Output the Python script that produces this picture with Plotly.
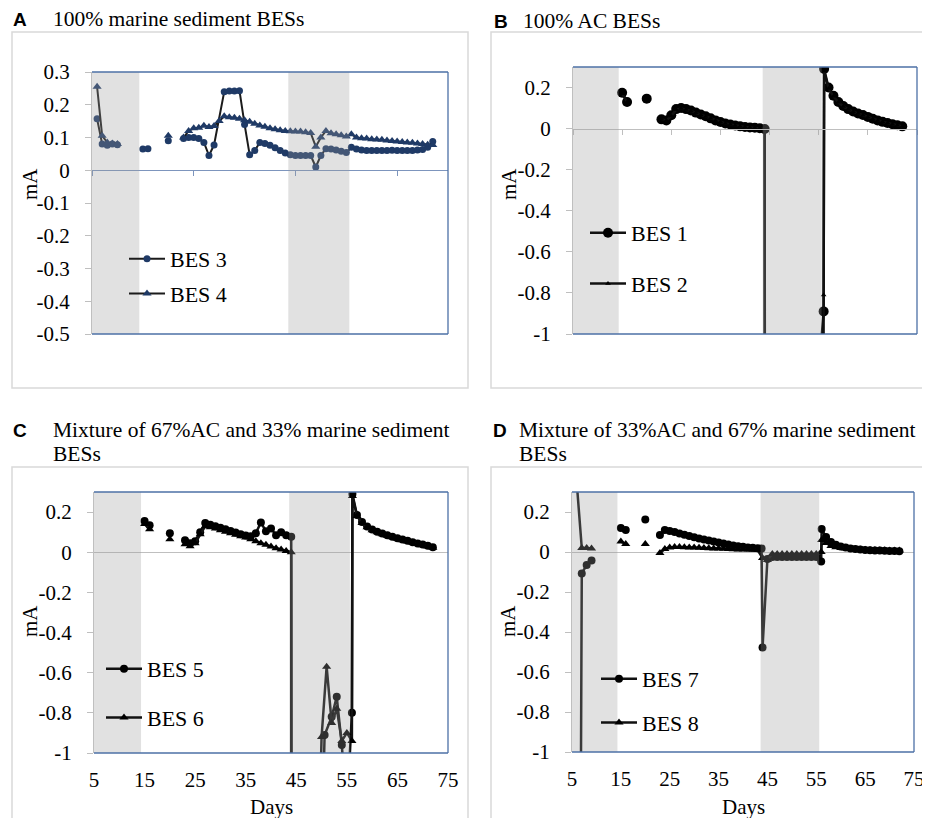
import plotly.graph_objects as go

# ---------------- data ----------------
# Panel A: 100% marine sediment
a_bes3_days = [6, 7, 8, 9, 10, 12, 15, 16, 18, 20, 21, 23, 24, 25, 26, 27, 28, 29, 31, 32, 33, 34, 35, 36, 37, 38, 39, 40,
               41, 42, 43, 44, 45, 46, 47, 48, 49, 50, 51, 52, 53, 54, 55, 56, 57, 58, 59, 60, 61, 62, 63, 64, 65,
               66, 67, 68, 69, 70, 71, 72]
a_bes3_ma = [0.157, 0.08, 0.076, 0.08, 0.078, None, 0.065, 0.066, None, 0.09, None, 0.097, 0.1, 0.1, 0.097, 0.085,
             0.045, 0.077, 0.24, 0.242, 0.242, 0.243, 0.14, 0.047, 0.06, 0.085, 0.082, 0.076, 0.069, 0.06, 0.053,
             0.047, 0.045, 0.045, 0.045, 0.045, 0.01, 0.045, 0.066, 0.065, 0.062, 0.058, 0.054, 0.07, 0.065, 0.062,
             0.06, 0.06, 0.06, 0.06, 0.06, 0.061, 0.06, 0.06, 0.06, 0.06, 0.062, 0.063, 0.07, 0.088]
a_bes4_days = [6, 7, 8, 9, 10, 12, 20, 21, 23, 24, 25, 26, 27, 28, 29, 30, 31, 32, 33, 34, 35, 36, 37, 38, 39, 40,
               41, 42, 43, 44, 45, 46, 47, 48, 49, 50, 51, 52, 53, 54, 55, 56, 57, 58, 59, 60, 61, 62, 63, 64, 65,
               66, 67, 68, 69, 70, 71, 72]
a_bes4_ma = [0.255, 0.105, 0.085, 0.082, 0.08, None, 0.105, None, 0.1, 0.12, 0.128, 0.13, 0.136, 0.132, 0.135, 0.15,
             0.165, 0.162, 0.16, 0.157, 0.153, 0.148, 0.142, 0.137, 0.133, 0.128, 0.125, 0.122, 0.12, 0.119, 0.118,
             0.118, 0.116, 0.114, 0.072, 0.1, 0.12, 0.113, 0.11, 0.107, 0.103, 0.11, 0.1, 0.098, 0.097, 0.095,
             0.094, 0.093, 0.091, 0.089, 0.088, 0.086, 0.085, 0.084, 0.082, 0.08, 0.078, 0.077]

# Panel B: 100% AC
b_bes1_days = [15, 16, 18, 20, 21, 23, 24, 25, 26, 27, 28, 29, 30, 31, 32, 33, 34, 35, 36, 37, 38, 39, 40, 41, 42, 43,
               44, 44.1, 55, 56, 56.1, 57, 58, 59, 60, 61, 62, 63, 64, 65, 66, 67, 68, 69, 70, 71, 72]
b_bes1_ma = [0.175, 0.13, None, 0.146, None, 0.045, 0.04, 0.065, 0.095, 0.1, 0.095, 0.088, 0.078, 0.069, 0.06, 0.05,
             0.04, 0.032, 0.025, 0.02, 0.015, 0.011, 0.008, 0.006, 0.004, 0.002, -0.002, -4.0, -1.2, -0.89, 0.29,
             0.2, 0.16, 0.13, 0.11, 0.095, 0.083, 0.074, 0.066, 0.057, 0.048, 0.04, 0.033, 0.027, 0.021, 0.016, 0.011]
b_bes2_days = [15, 16, 18, 20, 21, 23, 24, 25, 26, 27, 28, 29, 30, 31, 32, 33, 34, 35, 36, 37, 38, 39, 40, 41, 42, 43,
               44, 44.1, 55.9, 56, 56.1, 57, 58, 59, 60, 61, 62, 63, 64, 65, 66, 67, 68, 69, 70, 71, 72]
b_bes2_ma = [0.17, 0.13, None, 0.14, None, 0.045, 0.04, 0.062, 0.092, 0.098, 0.093, 0.086, 0.077, 0.068, 0.059, 0.05,
             0.04, 0.032, 0.025, 0.02, 0.015, 0.011, 0.008, 0.006, 0.004, 0.002, -0.002, -4.0, -3.0, -0.81, 0.28,
             0.195, 0.157, 0.128, 0.108, 0.094, 0.082, 0.073, 0.065, 0.056, 0.047, 0.04, 0.033, 0.027, 0.021,
             0.016, 0.011]

# Panel C: 67% AC + 33% marine sediment
c_bes5_days = [15, 16, 18, 20, 21, 23, 24, 25, 26, 27, 28, 29, 30, 31, 32, 33, 34, 35, 36, 37, 38, 39, 40, 41, 42, 43,
               44, 44.1, 50, 50.6, 52, 53, 54, 55, 56, 56.1, 57, 58, 59, 60, 61, 62, 63, 64, 65, 66, 67, 68, 69,
               70, 71, 72]
c_bes5_ma = [0.155, 0.135, None, 0.095, None, 0.06, 0.045, 0.055, 0.1, 0.145, 0.137, 0.13, 0.122, 0.114, 0.106, 0.098,
             0.09, 0.083, 0.08, 0.095, 0.148, 0.105, 0.118, 0.085, 0.1, 0.085, 0.077, -4.0, -1.5, -0.91, -0.82,
             -0.72, -0.96, -1.3, -0.8, 0.29, 0.185, 0.15, 0.128, 0.113, 0.102, 0.093, 0.085, 0.077, 0.07, 0.063,
             0.057, 0.05, 0.044, 0.038, 0.032, 0.025]
c_bes6_days = [15, 16, 18, 20, 21, 23, 24, 25, 26, 27, 28, 29, 30, 31, 32, 33, 34, 35, 36, 37, 38, 39, 40, 41, 42, 43,
               44, 44.1, 49, 50, 51, 52, 53, 54, 55, 56, 56.1, 57, 58, 59, 60, 61, 62, 63, 64, 65, 66, 67, 68, 69,
               70, 71, 72]
c_bes6_ma = [0.14, 0.115, None, 0.065, None, 0.04, 0.03, 0.045, 0.09, 0.13, 0.125, 0.118, 0.11, 0.102, 0.094, 0.087,
             0.08, 0.073, 0.065, 0.055, 0.045, 0.037, 0.028, 0.02, 0.013, 0.006, 0.0, -4.0, -2.0, -0.92, -0.57,
             -0.85, -0.78, -0.94, -0.9, -0.94, 0.28, 0.18, 0.145, 0.124, 0.11, 0.099, 0.09, 0.082, 0.074, 0.067,
             0.06, 0.054, 0.047, 0.041, 0.035, 0.029, 0.022]

# Panel D: 33% AC + 67% marine sediment
d_bes7_days = [6.5, 7, 8, 9, 12, 15, 16, 18, 20, 21, 23, 24, 25, 26, 27, 28, 29, 30, 31, 32, 33, 34, 35, 36, 37, 38,
               39, 40, 41, 42, 43, 43.8, 44, 45, 46, 47, 48, 49, 50, 51, 52, 53, 54, 55, 56, 56.1, 57, 58, 59, 60,
               61, 62, 63, 64, 65, 66, 67, 68, 69, 70, 71, 72]
d_bes7_ma = [-3.0, -0.107, -0.065, -0.043, None, 0.12, 0.11, None, 0.163, None, 0.085, 0.11, 0.105, 0.1, 0.093,
             0.086, 0.08, 0.074, 0.068, 0.062, 0.057, 0.052, 0.047, 0.042, 0.037, 0.033, 0.029, 0.026, 0.023,
             0.021, 0.019, 0.018, -0.478, -0.035, -0.025, -0.025, -0.025, -0.025, -0.025, -0.025, -0.025, -0.025,
             -0.025, -0.025, -0.048, 0.115, 0.075, 0.05, 0.036, 0.028, 0.022, 0.018, 0.015, 0.012, 0.01, 0.009,
             0.008, 0.007, 0.006, 0.005, 0.005, 0.004]
d_bes8_days = [5.8, 7, 8, 9, 12, 15, 16, 18, 20, 21, 23, 24, 25, 26, 27, 28, 29, 30, 31, 32, 33, 34, 35, 36, 37, 38,
               39, 40, 41, 42, 43, 44, 45, 46, 47, 48, 49, 50, 51, 52, 53, 54, 55, 56, 56.1, 57, 58, 59, 60, 61,
               62, 63, 64, 65, 66, 67, 68, 69, 70, 71, 72]
d_bes8_ma = [0.4, 0.02, 0.02, 0.018, None, 0.052, 0.04, None, 0.04, None, -0.005, 0.015, 0.022, 0.025, 0.025, 0.024,
             0.023, 0.022, 0.021, 0.02, 0.019, 0.018, 0.017, 0.016, 0.015, 0.014, 0.013, 0.012, 0.012, 0.011, 0.01,
             -0.03, -0.04, -0.01, -0.01, -0.01, -0.01, -0.01, -0.01, -0.01, -0.01, -0.01, -0.01, 0.0, 0.06, 0.045,
             0.03, 0.024, 0.02, 0.017, 0.015, 0.013, 0.012, 0.011, 0.01, 0.01, 0.009, 0.009, 0.008, 0.008, 0.008]

# shaded (gray) periods, days
shade_periods = [(4, 14.3), (43.6, 55.6)]

titles = {"A": "100% marine sediment BESs", "B": "100% AC BESs",
          "C": ["Mixture of 67%AC and 33% marine sediment", "BESs"],
          "D": ["Mixture of 33%AC and 67% marine sediment", "BESs"]}
y_ticks_a = [0.3, 0.2, 0.1, 0, -0.1, -0.2, -0.3, -0.4, -0.5]
y_ticks_a_text = ["0.3", "0.2", "0.1", "0", "-0.1", "-0.2", "-0.3", "-0.4", "-0.5"]
y_ticks_bcd = [0.2, 0, -0.2, -0.4, -0.6, -0.8, -1]
y_ticks_bcd_text = ["0.2", "0", "-0.2", "-0.4", "-0.6", "-0.8", "-1"]
x_ticks = [5, 15, 25, 35, 45, 55, 65, 75]
x_ticks_a = [5, 25, 45, 65]

# ---------------- layout helpers ----------------
# the page body has an 8px margin, so the figure starts 8px right/down
OFF = 8
W, H = 930 - OFF, 818 - OFF
SERIF = "Liberation Serif"
SANS = "Liberation Sans"
BORDER = "#4C70A6"
AXGRAY = "#BFBFBF"


def fx(p):
    return (p - OFF) / W


def fy(p):
    return 1 - (p - OFF) / H


# plot areas in window pixels: left, top, right, bottom, y-range
geo = {
    "A": (92, 72, 448, 334, (-0.5, 0.3)),
    "B": (573, 67, 917, 334, (-1, 0.3)),
    "C": (94, 492, 448, 753, (-1, 0.3)),
    "D": (572, 492, 914, 752, (-1, 0.3)),
}
idx = {"A": "", "B": "2", "C": "3", "D": "4"}

fig = go.Figure()

LINE_A = "#1b1b1b"
NAVY = "#1F3A66"
BLACK = "#000000"


def add(panel, days, vals, name, symbol, size, mcolor, legend):
    i = idx[panel]
    fig.add_trace(go.Scatter(
        x=days, y=vals, name=name, mode="lines+markers",
        xaxis="x" + i, yaxis="y" + i,
        line=dict(color=LINE_A if panel == "A" else "#111111", width=2 if panel == "A" else 2.5),
        marker=dict(symbol=symbol, size=size, color=mcolor),
        connectgaps=False, legend=legend, legendgroup=name, showlegend=True,
    ))


add("A", a_bes3_days, a_bes3_ma, "BES 3", "circle", 7, NAVY, "legend")
add("A", a_bes4_days, a_bes4_ma, "BES 4", "triangle-up", 8, NAVY, "legend")
add("B", b_bes1_days, b_bes1_ma, "BES 1", "circle", 10, BLACK, "legend2")
add("B", b_bes2_days, b_bes2_ma, "BES 2", "triangle-up", 5, BLACK, "legend2")
add("C", c_bes5_days, c_bes5_ma, "BES 5", "circle", 8, BLACK, "legend3")
add("C", c_bes6_days, c_bes6_ma, "BES 6", "triangle-up", 8, BLACK, "legend3")
add("D", d_bes7_days, d_bes7_ma, "BES 7", "circle", 8, BLACK, "legend4")
add("D", d_bes8_days, d_bes8_ma, "BES 8", "triangle-up", 8, BLACK, "legend4")

shapes = []
annotations = []
layout = {}

for p, (l, t, r, b, yr) in geo.items():
    i = idx[p]
    xd = [fx(l), fx(r)]
    yd = [fy(b), fy(t)]
    ylab = (y_ticks_a, y_ticks_a_text) if p == "A" else (y_ticks_bcd, y_ticks_bcd_text)
    layout["yaxis" + i] = dict(
        domain=yd, range=list(yr), anchor="x" + i, tickvals=ylab[0], ticktext=ylab[1],
        ticks="outside", ticklen=6, tickcolor=AXGRAY, showline=True, linecolor=AXGRAY, linewidth=1,
        showgrid=False, zeroline=(p in ("C", "D")), zerolinecolor=AXGRAY, zerolinewidth=1, automargin=False,
        tickfont=dict(family=SERIF, size=21, color="black"), ticklabelstandoff=11, fixedrange=True,
    )
    if p in ("A", "B"):
        frac = (0 - yr[0]) / (yr[1] - yr[0])
        pos = yd[0] + frac * (yd[1] - yd[0])
        col = "#7D95BD" if p == "A" else AXGRAY
        layout["xaxis" + i] = dict(
            domain=xd, range=[5, 75], anchor="free", position=pos, automargin=False,
            tickvals=x_ticks_a if p == "A" else x_ticks, ticks="outside", ticklen=5, tickcolor=col,
            showline=True, linecolor=col, linewidth=1, showticklabels=False, showgrid=False, zeroline=False,
        )
    else:
        layout["xaxis" + i] = dict(
            domain=xd, range=[5, 75], anchor="y" + i, tickvals=x_ticks, ticks="", showline=False,
            showgrid=False, zeroline=False, tickfont=dict(family=SERIF, size=21, color="black"),
            ticklabelstandoff=12, automargin=False,
        )
    # shaded periods (semi-transparent, drawn over data like the original)
    for s0, s1 in shade_periods:
        shapes.append(dict(type="rect", xref="x" + i, yref="y" + i + " domain", x0=max(s0, 5), x1=s1, y0=0, y1=1,
                           fillcolor="#9A9A9A", opacity=0.3, line=dict(width=0), layer="above"))
    # plot-area border (top, right, bottom)
    for (x0, y0, x1, y1) in [(0, 1, 1, 1), (1, 0, 1, 1), (0, 0, 1, 0)]:
        shapes.append(dict(type="line", xref="x" + i + " domain", yref="y" + i + " domain",
                           x0=x0, y0=y0, x1=x1, y1=y1, line=dict(color=BORDER, width=1.3), layer="above"))

# chart-area frames
for (l, t, r, b) in [(12, 32, 468, 388), (491, 32, 929, 388), (12, 467, 468, 830), (491, 467, 929, 830)]:
    shapes.append(dict(type="rect", xref="paper", yref="paper", x0=fx(l), x1=fx(r), y0=fy(b), y1=fy(t),
                       line=dict(color="#D9D9D9", width=1.5), layer="below"))


def ann(text, x, y, size=21, family=SERIF, xanchor="left", angle=0, bold=False):
    annotations.append(dict(text=("<b>%s</b>" % text) if bold else text, x=fx(x), y=fy(y), xref="paper",
                            yref="paper", showarrow=False, xanchor=xanchor, yanchor="middle", textangle=angle,
                            font=dict(family=family, size=size, color="black")))


TS = 21.5
ann("A", 11, 19, size=19, family=SANS, bold=True)
ann(titles["A"], 51, 19, size=TS)
ann("B", 492, 21, size=19, family=SANS, bold=True)
ann(titles["B"], 521, 21, size=TS)
ann("C", 11, 430, size=19, family=SANS, bold=True)
ann(titles["C"][0], 51, 430, size=TS)
ann(titles["C"][1], 51, 454, size=TS)
ann("D", 491, 430, size=19, family=SANS, bold=True)
ann(titles["D"][0], 517, 430, size=TS)
ann(titles["D"][1], 517, 454, size=TS)
ann("mA", 30, 184, xanchor="center", angle=-90)
ann("mA", 509, 184, xanchor="center", angle=-90)
ann("mA", 30, 621, xanchor="center", angle=-90)
ann("mA", 508, 621, xanchor="center", angle=-90)
ann("Days", 271, 807, xanchor="center")
ann("Days", 743, 807, xanchor="center")

legfont = dict(family=SERIF, size=22, color="black")
leg = dict(bgcolor="rgba(0,0,0,0)", font=legfont, xanchor="left", yanchor="top", traceorder="grouped",
           itemwidth=36, itemclick=False, itemdoubleclick=False)
layout["legend"] = dict(leg, x=fx(124), y=fy(238), tracegroupgap=3)
layout["legend2"] = dict(leg, x=fx(585), y=fy(212), tracegroupgap=19)
layout["legend3"] = dict(leg, x=fx(101), y=fy(648), tracegroupgap=17)
layout["legend4"] = dict(leg, x=fx(596), y=fy(658), tracegroupgap=12)

fig.update_layout(
    template="none",
    width=W, height=H, margin=dict(l=0, r=0, t=0, b=0, autoexpand=False), paper_bgcolor="white",
    plot_bgcolor="white", font=dict(family=SERIF, size=21, color="black"),
    shapes=shapes, annotations=annotations, **layout,
)

fig.write_html("out.html")
